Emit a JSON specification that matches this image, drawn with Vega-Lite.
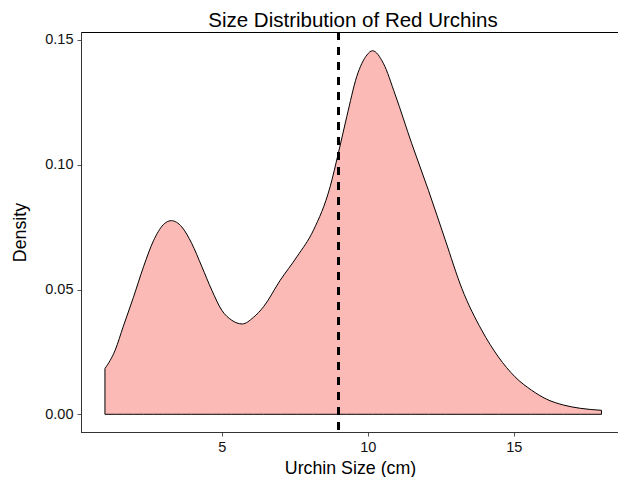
{
  "$schema": "https://vega.github.io/schema/vega-lite/v6.json",
  "width": 538,
  "height": 400,
  "autosize": {"type": "none"},
  "padding": {"left": 81, "top": 32, "right": 0, "bottom": 45},
  "background": "white",
  "config": {
    "font": "Liberation Sans",
    "view": {"stroke": "#000", "strokeWidth": 1},
    "axis": {
      "grid": false,
      "domain": true,
      "domainColor": "#333",
      "domainWidth": 1,
      "tickColor": "#555",
      "tickSize": 4,
      "tickWidth": 1,
      "labelFont": "Liberation Sans",
      "labelFontSize": 14.5,
      "labelColor": "#111",
      "titleFont": "Liberation Sans",
      "titleFontSize": 17.8,
      "titleFontWeight": "normal",
      "titleColor": "#000"
    },
    "title": {"font": "Liberation Sans", "fontSize": 20.5, "fontWeight": "normal", "color": "#000"}
  },
  "title": {"text": "Size Distribution of Red Urchins", "anchor": "middle", "frame": "group", "dx": 3, "dy": 5},
  "data": {
    "values": [
      {"size": 1.00, "density": 0.0183},
      {"size": 1.35, "density": 0.0257},
      {"size": 1.63, "density": 0.0353},
      {"size": 1.97, "density": 0.0467},
      {"size": 2.32, "density": 0.0591},
      {"size": 2.66, "density": 0.0695},
      {"size": 3.00, "density": 0.0760},
      {"size": 3.27, "density": 0.0776},
      {"size": 3.63, "density": 0.0751},
      {"size": 3.97, "density": 0.0685},
      {"size": 4.32, "density": 0.0591},
      {"size": 4.66, "density": 0.0497},
      {"size": 5.00, "density": 0.0417},
      {"size": 5.34, "density": 0.0377},
      {"size": 5.70, "density": 0.0362},
      {"size": 6.08, "density": 0.0388},
      {"size": 6.43, "density": 0.0431},
      {"size": 7.00, "density": 0.0537},
      {"size": 7.57, "density": 0.0631},
      {"size": 8.14, "density": 0.0738},
      {"size": 8.71, "density": 0.0912},
      {"size": 8.99, "density": 0.1046},
      {"size": 9.28, "density": 0.1193},
      {"size": 9.62, "density": 0.1353},
      {"size": 9.97, "density": 0.1440},
      {"size": 10.16, "density": 0.1457},
      {"size": 10.53, "density": 0.1407},
      {"size": 10.94, "density": 0.1280},
      {"size": 11.50, "density": 0.1086},
      {"size": 12.08, "density": 0.0896},
      {"size": 12.65, "density": 0.0699},
      {"size": 13.22, "density": 0.0504},
      {"size": 13.90, "density": 0.0337},
      {"size": 14.47, "density": 0.0230},
      {"size": 15.04, "density": 0.0150},
      {"size": 15.60, "density": 0.0097},
      {"size": 16.13, "density": 0.0060},
      {"size": 16.70, "density": 0.0037},
      {"size": 17.27, "density": 0.0024},
      {"size": 18.00, "density": 0.0016}
    ]
  },
  "layer": [
    {
      "mark": {"type": "area", "interpolate": "monotone", "fill": "#FBBAB6", "fillOpacity": 1, "stroke": "#000", "strokeWidth": 1},
      "encoding": {
        "x": {
          "field": "size", "type": "quantitative",
          "scale": {"domain": [0.18, 18.6], "nice": false, "zero": false},
          "axis": {"values": [5, 10, 15], "title": "Urchin Size (cm)", "labelPadding": 4, "titlePadding": 6}
        },
        "y": {
          "field": "density", "type": "quantitative",
          "scale": {"domain": [-0.0071, 0.1532], "nice": false, "zero": false},
          "axis": {"values": [0, 0.05, 0.1, 0.15], "format": ".2f", "title": "Density", "labelPadding": 4, "titlePadding": 15}
        },
        "y2": {"datum": 0}
      }
    },
    {
      "mark": {"type": "rule", "stroke": "#000", "strokeWidth": 2.3, "strokeDash": [8, 7]},
      "encoding": {"x": {"datum": 9}}
    }
  ]
}
